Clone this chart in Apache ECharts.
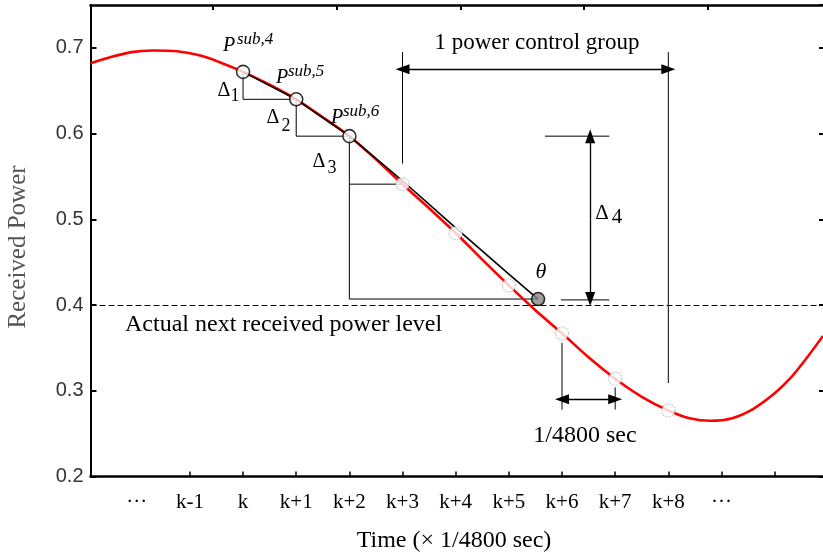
<!DOCTYPE html>
<html>
<head>
<meta charset="utf-8">
<script src="https://cdn.jsdelivr.net/npm/echarts@6/dist/echarts.min.js"></script>
<style>
  html, body { margin: 0; padding: 0; background: #fff; }
  #main { width: 823px; height: 554px; }
</style>
</head>
<body>
<div id="main"></div>
<script>
// received power curve (x in sample periods relative to k)
var curveX = [-2.87, -2.5, -2.1, -1.7, -1.24, -0.8, -0.43, 0, 0.5, 1, 1.5, 2, 2.5, 3, 3.5, 4, 4.5, 5, 5.5, 6, 6.5, 7, 7.5, 8, 8.4, 8.8, 9.2, 9.6, 10.0, 10.3, 10.6, 10.91];
var curveY = [0.682, 0.689, 0.695, 0.697, 0.696, 0.691, 0.683, 0.672, 0.657, 0.640, 0.619, 0.597, 0.570, 0.541, 0.513, 0.484, 0.453, 0.423, 0.394, 0.367, 0.339, 0.314, 0.293, 0.277, 0.268, 0.265, 0.268, 0.279, 0.297, 0.315, 0.338, 0.364];

// predicted (extrapolated) line
var predX = [0, 1, 2, 3, 4, 5, 5.55];
var predY = [0.672, 0.640, 0.597, 0.545, 0.490, 0.436, 0.407];

// measured sub-samples p_sub,4..6
var subX = [0, 1, 2];
var subY = [0.672, 0.640, 0.597];
// predicted point theta
var thetaX = [5.55];
var thetaY = [0.407];
// future samples
var futX = [3, 4, 5, 6, 7, 8];
var futY = [0.541, 0.484, 0.423, 0.367, 0.314, 0.277];

// step (delta) and guide lines
var stepLines = [
  [[0, 0.672], [0, 0.640], [1, 0.640]],
  [[1, 0.640], [1, 0.597], [2, 0.597]],
  [[2, 0.597], [2, 0.407], [5.55, 0.407]],
  [[2, 0.541], [3, 0.541]],
  [[3, 0.565], [3, 0.695]],
  [[8, 0.309], [8, 0.695]],
  [[5.68, 0.597], [6.89, 0.597]],
  [[5.98, 0.406], [6.89, 0.406]],
  [[6, 0.356], [6, 0.278]],
  [[7, 0.304], [7, 0.278]]
];

// arrows
var arrows = [
  { from: [3, 0.675], to: [8, 0.675], both: true },
  { from: [6, 0.290], to: [7, 0.290], both: true },
  { from: [6.53, 0.500], to: [6.53, 0.597], both: false },
  { from: [6.53, 0.500], to: [6.53, 0.407], both: false }
];

var nextLevel = 0.4;

var tickValues = [-1, 0, 1, 2, 3, 4, 5, 6, 7, 8, 9, 10];
var labelValues = [-2, -1, 0, 1, 2, 3, 4, 5, 6, 7, 8, 9];
var labelTexts = ['\u00b7\u00b7\u00b7', 'k-1', 'k', 'k+1', 'k+2', 'k+3', 'k+4', 'k+5', 'k+6', 'k+7', 'k+8', '\u00b7\u00b7\u00b7'];
var topTicks = [0, 1, 2, 3, 4];

function zip(xs, ys) {
  return xs.map(function (x, i) { return [x, ys[i]]; });
}

var SERIF = 'Liberation Serif';
var SANS = 'Liberation Sans';

var chart = echarts.init(document.getElementById('main'));

var series = [];
series.push({
  type: 'line', data: zip(curveX, curveY), smooth: 0.3, symbol: 'none', z: 2,
  lineStyle: { color: '#ff0000', width: 2.6 }
});
series.push({
  type: 'line', data: zip(predX, predY), symbol: 'none', z: 3,
  lineStyle: { color: '#000', width: 1.6 },
  markLine: {
    silent: true, symbol: 'none', label: { show: false },
    lineStyle: { color: '#000', width: 1.2, type: [6, 3] },
    data: [{ yAxis: nextLevel }]
  }
});
stepLines.forEach(function (seg) {
  series.push({
    type: 'line', data: seg, symbol: 'none', z: 1,
    lineStyle: { color: '#000', width: 1 }
  });
});
arrows.forEach(function (a) {
  series.push({
    type: 'line', data: [], z: 4,
    markLine: {
      silent: true,
      symbol: a.both ? ['triangle', 'triangle'] : ['none', 'triangle'],
      symbolSize: [10, 14],
      label: { show: false },
      lineStyle: { color: '#000', width: 1.3, type: 'solid' },
      data: [[{ coord: a.from }, { coord: a.to }]]
    }
  });
});
series.push({
  type: 'scatter', data: zip(futX, futY), symbol: 'circle', symbolSize: 13, z: 5,
  itemStyle: { color: '#fff', borderColor: '#aaa', borderWidth: 1.2, borderType: 'dotted' }
});
series.push({
  type: 'scatter', data: zip(subX, subY), symbol: 'circle', symbolSize: 13, z: 6,
  itemStyle: { color: '#fff', borderColor: '#000', borderWidth: 1.6 }
});
series.push({
  type: 'scatter', data: zip(thetaX, thetaY), symbol: 'circle', symbolSize: 13, z: 6,
  itemStyle: { color: '#888', borderColor: '#000', borderWidth: 1.6 }
});

function txt(x, y, s, size, opts) {
  opts = opts || {};
  return {
    type: 'text', x: x, y: y, rotation: opts.rot || 0, z: 10,
    style: {
      text: s, fill: opts.color || '#000',
      font: (opts.italic ? 'italic ' : '') + size + 'px "' + (opts.family || SERIF) + '"',
      textAlign: opts.align || 'left', textVerticalAlign: 'middle'
    }
  };
}

var graphics = [
  txt(537, 43, '1 power control group', 23, { align: 'center' }),
  txt(125, 325, 'Actual next received power level', 24),
  txt(585, 436, '1/4800 sec', 24, { align: 'center' }),
  txt(454, 541, 'Time (\u00d7 1/4800 sec)', 24, { align: 'center' }),
  txt(18, 247, 'Received Power', 25, { align: 'center', rot: Math.PI / 2, color: '#555' }),
  txt(541, 272, '\u03b8', 22, { italic: true, align: 'center' }),
  // deltas
  txt(224, 91, '\u0394', 20, { align: 'center' }), txt(235, 96, '1', 18, { align: 'center' }),
  txt(273, 118, '\u0394', 20, { align: 'center' }), txt(286, 126, '2', 18, { align: 'center' }),
  txt(319, 162, '\u0394', 20, { align: 'center' }), txt(332, 168, '3', 18, { align: 'center' }),
  txt(602, 213, '\u0394', 21, { align: 'center' }), txt(617, 217, '4', 21, { align: 'center' }),
  // sub-sample labels
  txt(223, 46, 'P', 20, { italic: true }), txt(237, 40, 'sub,4', 17, { italic: true }),
  txt(276, 78, 'P', 20, { italic: true }), txt(288, 72, 'sub,5', 17, { italic: true }),
  txt(331, 118, 'P', 20, { italic: true }), txt(343, 112, 'sub,6', 17, { italic: true })
];

var option = {
  animation: false,
  backgroundColor: '#fff',
  grid: { left: 90.5, right: 0, top: 5, bottom: 77.5 },
  xAxis: [{
    type: 'value', min: -2.87, max: 10.91, position: 'bottom',
    axisLine: { onZero: false, lineStyle: { color: '#000', width: 2.5 } },
    axisTick: { inside: true, length: 5, customValues: tickValues, lineStyle: { color: '#000', width: 1.5 } },
    axisLabel: {
      customValues: labelValues, margin: 15, color: '#000', fontFamily: SERIF, fontSize: 21,
      formatter: function (v) { return labelTexts[labelValues.indexOf(Math.round(v))]; }
    },
    splitLine: { show: false }
  }, {
    type: 'value', min: -0.99, max: 4.93, position: 'top',
    axisLine: { onZero: false, lineStyle: { color: '#000', width: 2.5 } },
    axisTick: { inside: true, length: 5, customValues: topTicks, lineStyle: { color: '#000', width: 2 } },
    axisLabel: { show: false },
    splitLine: { show: false }
  }],
  yAxis: [{
    type: 'value', min: 0.2, max: 0.75, interval: 0.1, position: 'left',
    axisLine: { onZero: false, lineStyle: { color: '#000', width: 2 } },
    axisTick: { inside: true, length: 6, lineStyle: { color: '#000', width: 2 } },
    axisLabel: {
      showMaxLabel: false, margin: 7, color: '#333', fontFamily: SANS, fontSize: 20,
      formatter: function (v) { return v.toFixed(1); }
    },
    splitLine: { show: false }
  }, {
    type: 'value', min: 0.2, max: 0.75, interval: 0.1, position: 'right',
    axisLine: { show: false, onZero: false },
    axisTick: { inside: true, length: 4, lineStyle: { color: '#000', width: 2 } },
    axisLabel: { show: false },
    splitLine: { show: false }
  }],
  graphic: graphics,
  series: series
};

chart.setOption(option);
</script>
</body>
</html>
